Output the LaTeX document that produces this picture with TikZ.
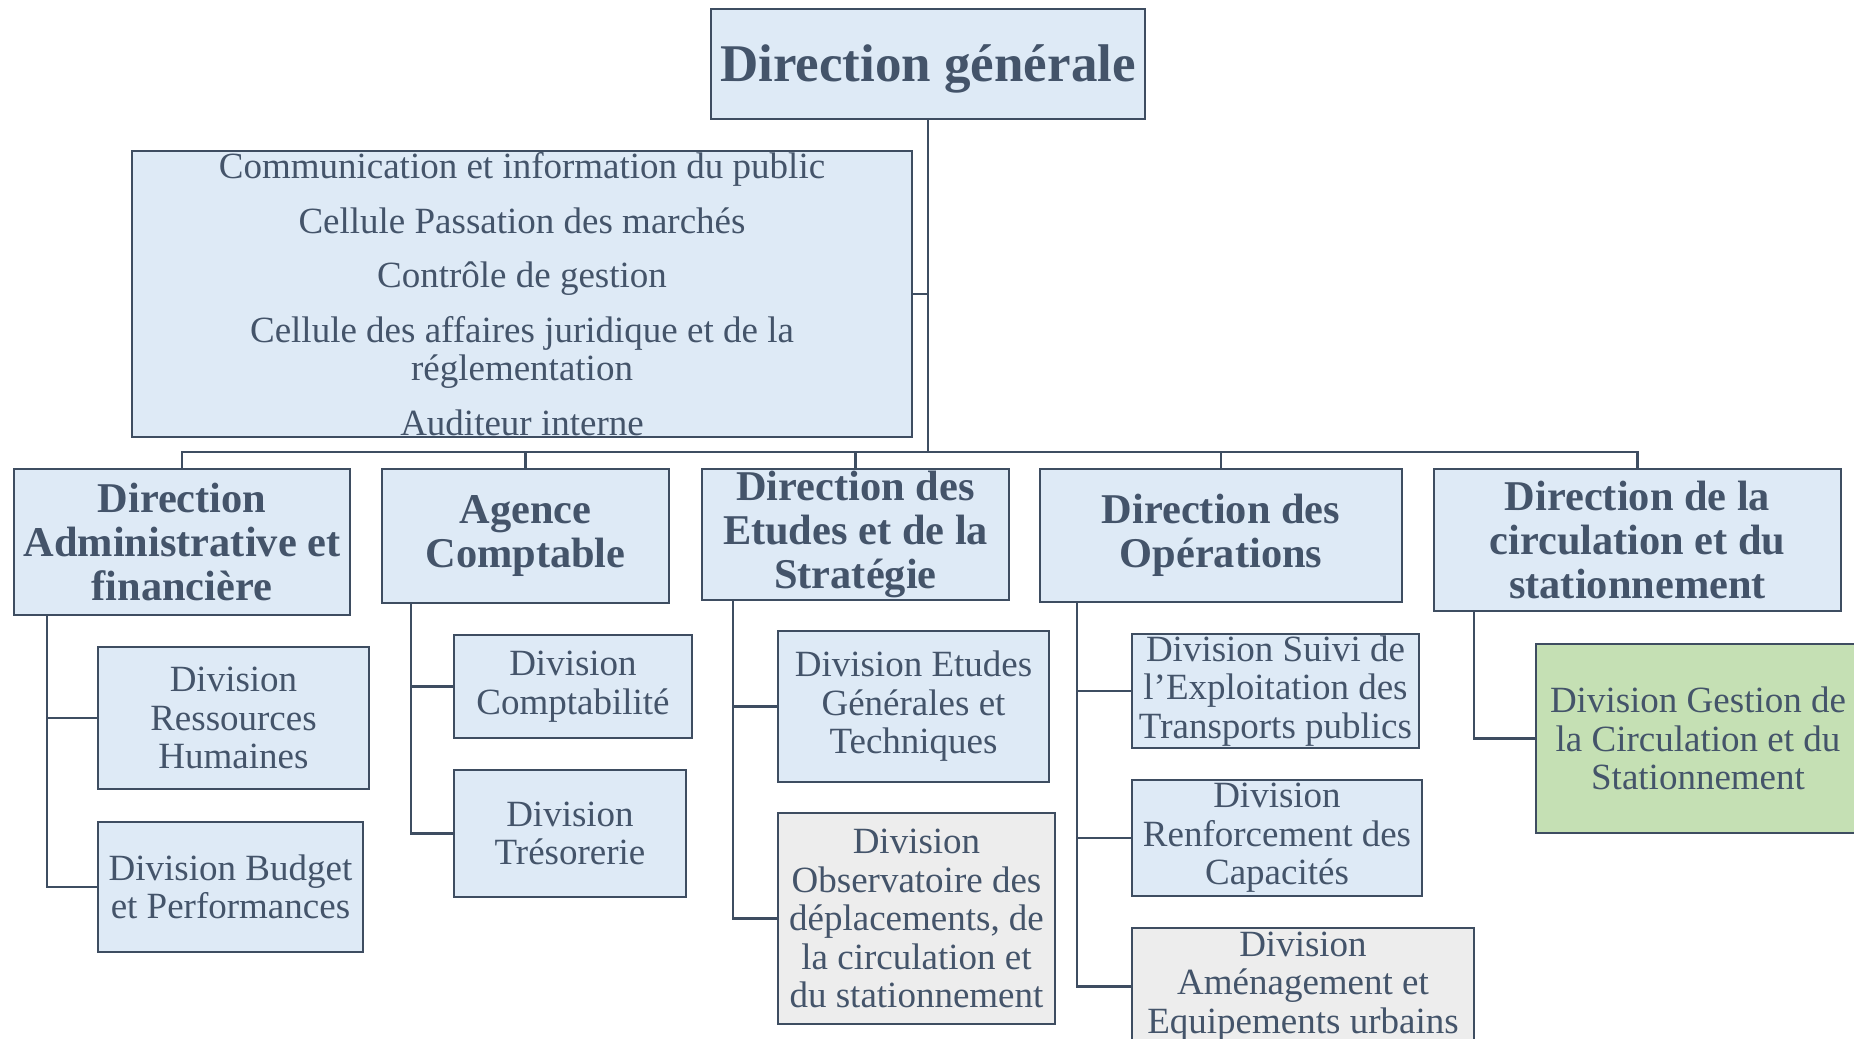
\documentclass[tikz,border=0pt]{standalone}
\usepackage{fontspec}
\setmainfont{Liberation Serif}
\definecolor{textc}{HTML}{44546A}
\definecolor{linec}{HTML}{3E4D61}
\definecolor{bluef}{HTML}{DEEAF6}
\definecolor{grayf}{HTML}{EDEDED}
\definecolor{greenf}{HTML}{C5E0B4}
\tikzset{
  box/.style={draw=linec, line width=1.15pt, fill=bluef, text=textc, align=center, inner sep=0pt},
  divbox/.style={box, font=\fontsize{18.5}{19.25}\selectfont},
  dirbox/.style={box, font=\fontsize{21.2}{22}\selectfont\bfseries},
  link/.style={draw=linec, line width=1.35pt}
}
\begin{document}
\begin{tikzpicture}[x=0.5pt, y=-0.5pt]
      \useasboundingbox (0,0) rectangle (1854,1039);
      \node (dg) at (928,64) [box, minimum width=217pt, minimum height=55pt, text height=23pt, text depth=6pt, font=\fontsize{26.5}{28}\selectfont\bfseries] {Direction générale};
      \node (staff) at (522,294) [divbox, minimum width=390pt, minimum height=143pt] {Communication et information du public\\[8pt]
        Cellule Passation des marchés\\[8pt]
        Contrôle de gestion\\[8pt]
        Cellule des affaires juridique et de la\\réglementation\\[8pt]
        Auditeur interne};
      \node (daf) at (182,542) [dirbox, minimum width=168pt, minimum height=73pt] {Direction\\Administrative et\\financière};
      \node (ac) at (525.5,536) [dirbox, minimum width=143.5pt, minimum height=67pt] {Agence\\Comptable};
      \node (des) at (855.5,534.5) [dirbox, minimum width=153.5pt, minimum height=65.5pt] {Direction des\\Etudes et de la\\Stratégie};
      \node (dop) at (1221,535.5) [dirbox, minimum width=181pt, minimum height=66.5pt] {Direction des\\Opérations};
      \node (dcs) at (1637.5,540) [dirbox, minimum width=203.5pt, minimum height=71pt] {Direction de la\\circulation et du\\stationnement};
      \node (drh) at (233.5,718) [divbox, minimum width=135.5pt, minimum height=71pt] {Division\\Ressources\\Humaines};
      \node (dbp) at (230.5,887) [divbox, minimum width=132.5pt, minimum height=65pt] {Division Budget\\et Performances};
      \node (dcpt) at (573,686.5) [divbox, minimum width=119pt, minimum height=51.5pt] {Division\\Comptabilité};
      \node (dtres) at (570,833.5) [divbox, minimum width=116pt, minimum height=63.5pt] {Division\\Trésorerie};
      \node (degt) at (913.5,706.5) [divbox, minimum width=135.5pt, minimum height=75.5pt] {Division Etudes\\Générales et\\Techniques};
      \node (dobs) at (916.5,918.5) [divbox, fill=grayf, minimum width=138.5pt, minimum height=105.5pt] {Division\\Observatoire des\\déplacements, de\\la circulation et\\du stationnement};
      \node (dsuivi) at (1275.5,691) [divbox, minimum width=143.5pt, minimum height=57pt] {Division Suivi de\\l’Exploitation des\\Transports publics};
      \node (drc) at (1277,838) [divbox, minimum width=145pt, minimum height=58pt] {Division\\Renforcement des\\Capacités};
      \node (daeu) at (1303,986.5) [divbox, fill=grayf, minimum width=171pt, minimum height=58.5pt] {Division\\Aménagement et\\Equipements urbains};
      \node (dgcs) at (1698,738.5) [divbox, fill=greenf, minimum width=162pt, minimum height=94.5pt] {Division Gestion de\\la Circulation et du\\Stationnement};
      \coordinate (bus) at (928,452);
      \coordinate (dafv) at (47,615);
      \coordinate (acv) at (411,603);
      \coordinate (desv) at (733,600);
      \coordinate (dopv) at (1077,602);
      \coordinate (dcsv) at (1474,611);
      \draw[link] (dg.south) -- (bus);
      \draw[link] (dg.south |- staff.east) -- (staff.east);
      \draw[link] (bus) -| (daf.north);
      \draw[link] (bus) -| (ac.north);
      \draw[link] (bus) -| (des.north);
      \draw[link] (bus) -| (dop.north);
      \draw[link] (bus) -| (dcs.north);
      \draw[link] (dafv) |- (drh.west);
      \draw[link] (dafv) |- (dbp.west);
      \draw[link] (acv) |- (dcpt.west);
      \draw[link] (acv) |- (dtres.west);
      \draw[link] (desv) |- (degt.west);
      \draw[link] (desv) |- (dobs.west);
      \draw[link] (dopv) |- (dsuivi.west);
      \draw[link] (dopv) |- (drc.west);
      \draw[link] (dopv) |- (daeu.west);
      \draw[link] (dcsv) |- (dgcs.west);
    \end{tikzpicture}
\end{document}
